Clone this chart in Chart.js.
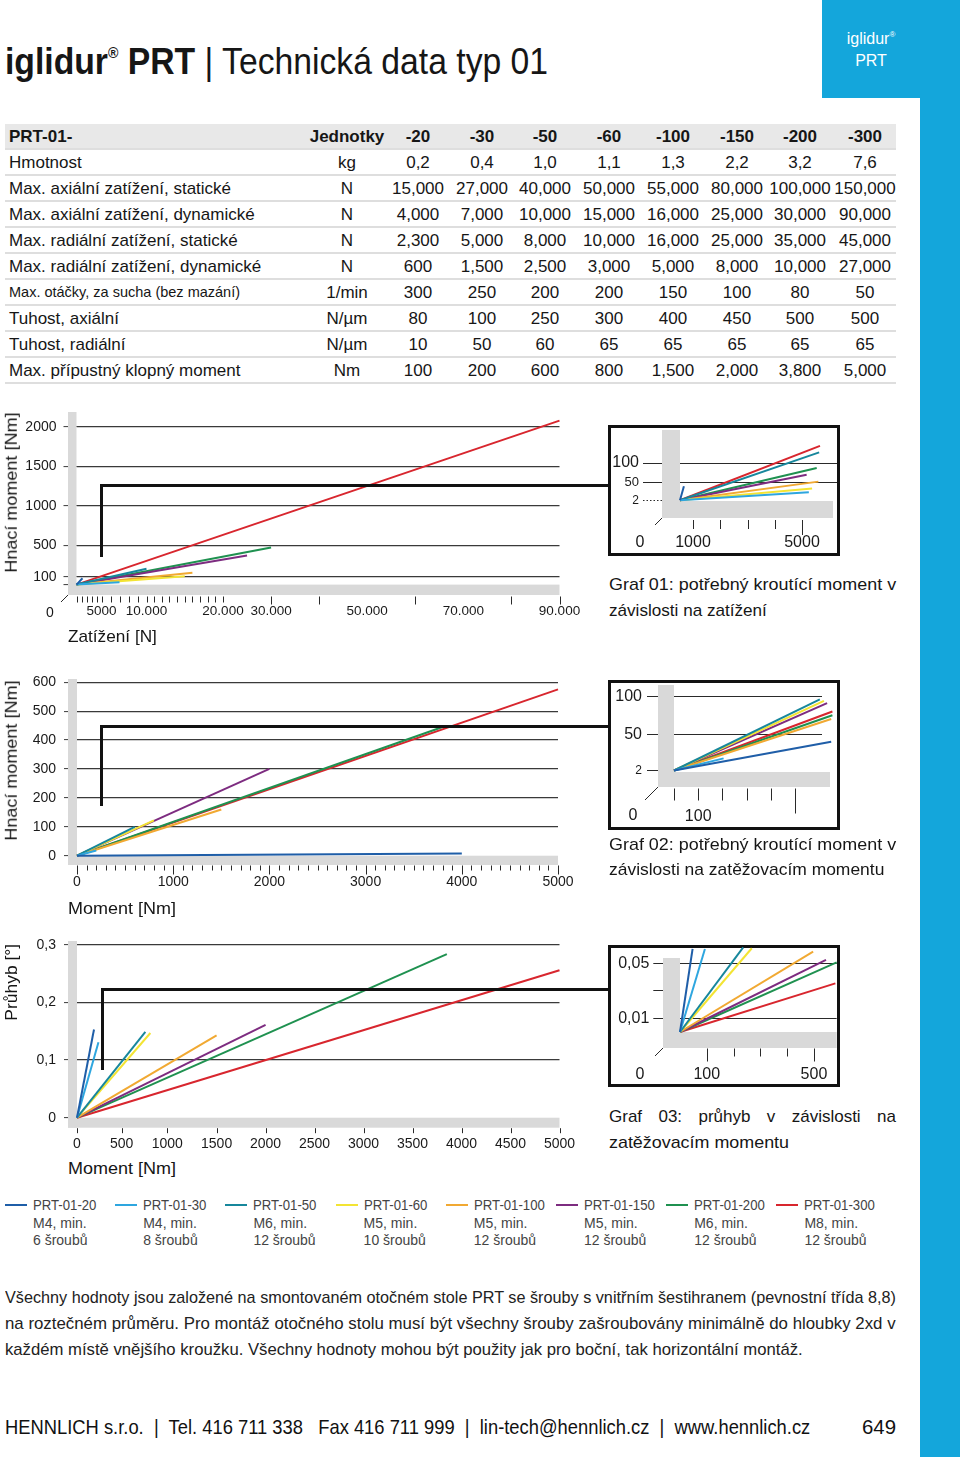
<!DOCTYPE html>
<html lang="cs"><head><meta charset="utf-8"><title>iglidur PRT – Technická data typ 01</title>
<script src="https://cdn.jsdelivr.net/npm/chart.js@4.4.1/dist/chart.umd.min.js"></script>
<style>
html,body{margin:0;padding:0;background:#fff}
body{position:relative;width:960px;height:1457px;overflow:hidden;font-family:"Liberation Sans",Arial,Helvetica,sans-serif;color:#161616}
.t{position:absolute;white-space:nowrap}
.t>span{display:inline-block;white-space:nowrap;transform-origin:0 50%}
.box{position:absolute;border:3px solid #111;box-sizing:border-box}
.bk{position:absolute;background:#111}
canvas{position:absolute}
</style></head><body>
<div style="position:absolute;left:822px;top:0;width:138px;height:98px;background:#14a6db"></div>
<div style="position:absolute;left:920px;top:98px;width:40px;height:1359px;background:#14a6db"></div>
<script>
// ---------------- DATA ----------------
const SERIES = ['PRT-01-20','PRT-01-30','PRT-01-50','PRT-01-60','PRT-01-100','PRT-01-150','PRT-01-200','PRT-01-300'];
const SCREW_SIZE = ['M4, min.','M4, min.','M6, min.','M5, min.','M5, min.','M5, min.','M6, min.','M8, min.'];
const SCREW_COUNT = ['6 šroubů','8 šroubů','12 šroubů','10 šroubů','12 šroubů','12 šroubů','12 šroubů','12 šroubů'];
const COLORS = ['#1f5ea8','#2ea6df','#17879c','#f3e433','#f1a932','#7d2c80','#1f9150','#d8262e'];

// Graf 01 – Hnací moment [Nm] vs Zatížení [N]
const G1_START = [0, 0];
const G1_LOAD = [1200, 7000, 10000, 15000, 16000, 25000, 30000, 90000];
const G1_TORQUE = [80, 30, 200, 105, 150, 370, 470, 2080];
const G1_X_TICKS = [5000, 10000, 20000, 30000, 50000, 70000, 90000];
const G1_X_LABELS = ['5000', '10.000', '20.000', '30.000', '50.000', '70.000', '90.000'];
const G1_Y_TICKS = [2000, 1500, 1000, 500, 100, 0];
const G1_Y_LABELS = ['2000', '1500', '1000', '500', '100', ''];
const G1_Y_GRID = [2000, 1500, 1000, 500, 100];
const G1_X_MINOR = [0,1000,2000,3000,4000,5000,6000,7000,8000,9000,10000,11000,12000,13000,14000,15000,16000,17000,18000,19000,20000];
const G1_X_MAJOR = [30000, 40000, 60000, 80000, 90000];
// Graf 01 detail
const G1Z_START = [0, 2];
const G1Z_LOAD = [300, 5250, 5630, 5370, 5600, 5170, 5540, 5660];
const G1Z_TORQUE = [39, 23, 128, 33, 51, 69, 87, 145];
const G1Z_X_TICKS = [1000, 5000];
const G1Z_X_LABELS = ['1000', '5000'];
const G1Z_Y_TICKS = [100, 50, 2];
const G1Z_Y_LABELS = ['100', '50', '2'];
const G1Z_X_MINOR = [1000, 2000, 3000, 4000];
const G1Z_X_MAJOR = [5000];

// Graf 02 – Hnací moment [Nm] vs Moment [Nm]
const G2_START = [0, 0];
const G2_MOMENT = [4000, 200, 600, 800, 1500, 2000, 3800, 5000];
const G2_TORQUE = [8, 18, 100, 122, 160, 300, 445, 575];
const G2_X_TICKS = [0, 1000, 2000, 3000, 4000, 5000];
const G2_X_LABELS = ['0', '1000', '2000', '3000', '4000', '5000'];
const G2_Y_TICKS = [600, 550, 500, 450, 400, 350, 300, 250, 200, 150, 100, 50, 0];
const G2_Y_LABELS = ['600', '', '500', '', '400', '', '300', '', '200', '', '100', '', '0'];
const G2_Y_GRID = [600, 500, 400, 300, 200, 100, 50];
const G2_X_MINOR = [100,200,300,400,500,600,700,800,900,1100,1200,1300,1400,1500,1600,1700,1800,1900,2100,2200,2300,2400,2500,2600,2700,2800,2900,3100,3200,3300,3400,3500,3600,3700,3800,3900,4100,4200,4300,4400,4500,4600,4700,4800,4900];
const G2_X_MAJOR = [0, 1000, 2000, 3000, 4000, 5000];
// Graf 02 detail
const G2Z_START = [0, 2];
const G2Z_MOMENT = [650, 205, 603, 620, 650, 633, 655, 655];
const G2Z_TORQUE = [40, 18, 96, 94, 70, 91, 75, 80];
const G2Z_X_TICKS = [100];
const G2Z_X_LABELS = ['100'];
const G2Z_Y_TICKS = [100, 50, 2];
const G2Z_Y_LABELS = ['100', '50', '2'];
const G2Z_X_MINOR = [0, 100, 200, 300, 400];
const G2Z_X_MAJOR = [500];

// Graf 03 – Průhyb [°] vs Moment [Nm]
const G3_START = [0, 0];
const G3_MOMENT = [190, 240, 760, 815, 1500, 2000, 3850, 5000];
const G3_DEFLECTION = [0.153, 0.131, 0.149, 0.147, 0.143, 0.161, 0.284, 0.256];
const G3_X_TICKS = [0, 500, 1000, 1500, 2000, 2500, 3000, 3500, 4000, 4500, 5000];
const G3_X_LABELS = ['0', '500', '1000', '1500', '2000', '2500', '3000', '3500', '4000', '4500', '5000'];
const G3_Y_TICKS = [0.3, 0.2, 0.1, 0];
const G3_Y_LABELS = ['0,3', '0,2', '0,1', '0'];
const G3_Y_GRID = [0.3, 0.2, 0.1];
// Graf 03 detail
const G3Z_START = [0, 0];
const G3Z_MOMENT = [47, 93, 236, 268, 497, 545, 585, 580];
const G3Z_DEFLECTION = [0.0604, 0.0604, 0.0616, 0.0609, 0.0584, 0.0524, 0.0507, 0.0354];
const G3Z_X_TICKS = [100, 500];
const G3Z_X_LABELS = ['100', '500'];
const G3Z_Y_TICKS = [0.05, 0.04, 0.03, 0.02, 0.01];
const G3Z_Y_LABELS = ['0,05', '', '', '', '0,01'];
const G3Z_Y_GRID = [0.05, 0.01];
const G3Z_X_MINOR = [200, 300, 400];
const G3Z_X_MAJOR = [100, 500];

// Table
const TABLE_HEAD = ['PRT-01-', 'Jednotky', '-20', '-30', '-50', '-60', '-100', '-150', '-200', '-300'];
const TABLE_ROWS = [
  ['Hmotnost', 'kg', '0,2', '0,4', '1,0', '1,1', '1,3', '2,2', '3,2', '7,6'],
  ['Max. axiální zatížení, statické', 'N', '15,000', '27,000', '40,000', '50,000', '55,000', '80,000', '100,000', '150,000'],
  ['Max. axiální zatížení, dynamické', 'N', '4,000', '7,000', '10,000', '15,000', '16,000', '25,000', '30,000', '90,000'],
  ['Max. radiální zatížení, statické', 'N', '2,300', '5,000', '8,000', '10,000', '16,000', '25,000', '35,000', '45,000'],
  ['Max. radiální zatížení, dynamické', 'N', '600', '1,500', '2,500', '3,000', '5,000', '8,000', '10,000', '27,000'],
  ['Max. otáčky, za sucha (bez mazání)', '1/min', '300', '250', '200', '200', '150', '100', '80', '50'],
  ['Tuhost, axiální', 'N/µm', '80', '100', '250', '300', '400', '450', '500', '500'],
  ['Tuhost, radiální', 'N/µm', '10', '50', '60', '65', '65', '65', '65', '65'],
  ['Max. přípustný klopný moment', 'Nm', '100', '200', '600', '800', '1,500', '2,000', '3,800', '5,000']
];

// ---------------- HELPERS ----------------
const FONT = '"Liberation Sans", Arial, Helvetica, sans-serif';
Chart.defaults.font.family = FONT;
Chart.defaults.color = '#1a1a1a';

function addText(html, x, yc, size, opt) {
  opt = opt || {};
  const d = document.createElement('div');
  d.className = 't';
  const lh = size * 1.2;
  d.style.top = (yc - lh / 2) + 'px';
  d.style.fontSize = size + 'px';
  d.style.lineHeight = lh + 'px';
  if (opt.weight) d.style.fontWeight = opt.weight;
  if (opt.color) d.style.color = opt.color;
  const s = document.createElement('span');
  s.innerHTML = html;
  d.appendChild(s);
  if (opt.align === 'center') {
    d.style.left = (x - 300) + 'px'; d.style.width = '600px'; d.style.textAlign = 'center';
    s.style.transformOrigin = '50% 50%';
  } else {
    d.style.left = x + 'px';
  }
  document.body.appendChild(d);
  if (opt.w) { const nat = s.offsetWidth; if (nat > 0) s.style.transform = 'scaleX(' + (opt.w / nat) + ')'; }
  return d;
}
function addRotated(text, cx, cy, size, len) {
  const d = document.createElement('div');
  d.className = 't';
  const lh = size * 1.2;
  d.style.cssText += 'left:' + (cx - len / 2) + 'px;top:' + (cy - lh / 2) + 'px;width:' + len + 'px;text-align:center;font-size:' + size + 'px;line-height:' + lh + 'px;transform:rotate(-90deg);transform-origin:50% 50%';
  const s = document.createElement('span');
  s.textContent = text; s.style.transformOrigin = '50% 50%';
  d.appendChild(s);
  document.body.appendChild(d);
  const nat = s.offsetWidth; if (nat > 0) s.style.transform = 'scaleX(' + (len / nat) + ')';
}
function addJustified(text, x, yc, size, w) {
  const d = document.createElement('div');
  d.className = 't';
  const lh = size * 1.2;
  d.style.cssText += 'left:' + x + 'px;top:' + (yc - lh / 2) + 'px;width:' + w + 'px;font-size:' + size + 'px;line-height:' + lh + 'px;display:flex;justify-content:space-between';
  text.split(' ').forEach(wd => { const s = document.createElement('i'); s.style.fontStyle = 'normal'; s.textContent = wd; d.appendChild(s); });
  document.body.appendChild(d);
}
function rect(l, t, w, h, cls, bg) {
  const d = document.createElement('div');
  d.className = cls;
  d.style.left = l + 'px'; d.style.top = t + 'px'; d.style.width = w + 'px'; d.style.height = h + 'px';
  if (bg) d.style.background = bg;
  document.body.appendChild(d);
  return d;
}

// Piecewise linear axis (the printed axes are stretched near the origin)
const PW = {};
class PiecewiseScale extends Chart.LinearScale {
  _bp() { return PW[this.chart.canvas.id + '_' + this.id]; }
  getPixelForValue(value) {
    if (value === null || value === undefined || isNaN(value)) return NaN;
    const b = this._bp();
    if (!b) return super.getPixelForValue(value);
    const v = b.values, p = b.pixels, n = v.length;
    let i = 0;
    while (i < n - 2 && value > v[i + 1]) i++;
    const t = (value - v[i]) / (v[i + 1] - v[i]);
    return this.getPixelForDecimal((p[i] + t * (p[i + 1] - p[i])) / p[n - 1]);
  }
  getValueForPixel(pixel) {
    const b = this._bp();
    if (!b) return super.getValueForPixel(pixel);
    const v = b.values, p = b.pixels, n = v.length;
    const off = this.getDecimalForPixel(pixel) * p[n - 1];
    let i = 0;
    while (i < n - 2 && off > p[i + 1]) i++;
    return v[i] + (off - p[i]) / (p[i + 1] - p[i]) * (v[i + 1] - v[i]);
  }
}
PiecewiseScale.id = 'piecewise';
PiecewiseScale.defaults = Chart.LinearScale.defaults;
Chart.register(PiecewiseScale);

function decorPlugin(o) {
  return {
    id: 'decor',
    beforeDatasetsDraw(chart) {
      const a = chart.chartArea, ctx = chart.ctx, xs = chart.scales.x;
      ctx.save();
      ctx.fillStyle = '#d9d9d9';
      const bx = a.left - o.vw, byTop = a.top + o.vTop, byBot = a.bottom + o.hh;
      ctx.fillRect(bx, byTop, o.vw, byBot - byTop);
      ctx.fillRect(bx, a.bottom, a.right + o.hRight - bx, o.hh);
      ctx.strokeStyle = '#2a2a2a'; ctx.lineWidth = 1;
      const y0 = byBot + o.gap;
      const tk = (v, len) => { const x = Math.round(xs.getPixelForValue(v)) + 0.5; ctx.beginPath(); ctx.moveTo(x, y0); ctx.lineTo(x, y0 + len); ctx.stroke(); };
      (o.minor || []).forEach(v => tk(v, o.minorLen));
      (o.major || []).forEach(v => tk(v, o.majorLen));
      if (o.diag) { ctx.beginPath(); ctx.moveTo(bx, byBot); ctx.lineTo(bx - o.diag, byBot + o.diag); ctx.stroke(); }
      ctx.restore();
    }
  };
}

function lineSets(xEnd, yEnd, start) {
  return SERIES.map((name, i) => ({
    label: name,
    data: [{ x: start[0], y: start[1] }, { x: xEnd[i], y: yEnd[i] }],
    borderColor: COLORS[i], backgroundColor: COLORS[i],
    borderWidth: 2, pointRadius: 0, pointHoverRadius: 0, showLine: true, clip: false, tension: 0, fill: false
  }));
}

function buildChart(id, r, area, X, Y, sets, decor) {
  const cv = document.createElement('canvas');
  cv.id = id; cv.width = r.w; cv.height = r.h;
  cv.style.left = r.l + 'px'; cv.style.top = r.t + 'px';
  cv.style.width = r.w + 'px'; cv.style.height = r.h + 'px';
  document.body.appendChild(cv);
  if (X.breaks) PW[id + '_x'] = X.breaks;
  const yW = area.l - r.l;
  const xH = r.t + r.h - area.b;
  const zero = s => { s.paddingLeft = 0; s.paddingRight = 0; s.paddingTop = 0; s.paddingBottom = 0; };
  const lab = (vals, labels) => v => { const k = vals.indexOf(v); return k < 0 ? '' : labels[k]; };
  const gc = Y.gridColor || '#3a3a3a';
  return new Chart(cv, {
    type: 'scatter',
    data: { datasets: sets },
    options: {
      responsive: false, maintainAspectRatio: false, animation: false, events: [], devicePixelRatio: 1,
      layout: { autoPadding: false, padding: { left: 0, top: area.t - r.t, right: r.l + r.w - area.r, bottom: 0 } },
      plugins: { legend: { display: false }, tooltip: { enabled: false } },
      scales: {
        x: {
          type: X.breaks ? 'piecewise' : 'linear', position: 'bottom', min: X.min, max: X.max, bounds: 'data',
          border: { display: false }, grid: { display: false, drawTicks: false, drawOnChartArea: false },
          afterBuildTicks: s => { s.ticks = X.ticks.map(v => ({ value: v })); },
          afterFit: s => { s.height = xH; zero(s); },
          ticks: { autoSkip: false, maxRotation: 0, minRotation: 0, padding: X.pad, color: '#1a1a1a',
                   font: { size: X.size, family: FONT }, callback: lab(X.ticks, X.labels) }
        },
        y: {
          type: 'linear', position: 'left', min: Y.min, max: Y.max, bounds: 'data',
          border: { display: false },
          grid: { drawOnChartArea: true, drawTicks: true, tickLength: Y.tl, lineWidth: Y.lw || 1.2, tickWidth: 1,
                  color: c => (c.tick && Y.grid.indexOf(c.tick.value) >= 0) ? gc : 'rgba(0,0,0,0)',
                  tickColor: gc,
                  tickBorderDash: c => (c.tick && Y.dotted && Y.dotted.indexOf(c.tick.value) >= 0) ? [1.5, 2] : [] },
          afterBuildTicks: s => { s.ticks = Y.ticks.map(v => ({ value: v })); },
          afterFit: s => { s.width = yW; zero(s); },
          ticks: { padding: Y.pad, color: '#1a1a1a',
                   font: c => ({ size: (Y.sizes && c.tick) ? Y.sizes[Y.ticks.indexOf(c.tick.value)] : Y.size, family: FONT }),
                   callback: lab(Y.ticks, Y.labels) }
        }
      }
    },
    plugins: [decorPlugin(decor)]
  });
}

// ---------------- HEADER ----------------
addText('<b>iglidur<sup style="font-size:.42em;vertical-align:1.05em;line-height:0">®</sup> PRT</b> <span style="font-weight:300">|</span> Technická data typ 01', 5, 62, 36, { w: 543 });
addText('iglidur<sup style="font-size:.5em;vertical-align:.9em;line-height:0">®</sup>', 871, 39, 16, { align: 'center', color: '#fff' });
addText('PRT', 871, 61, 16, { align: 'center', color: '#fff' });

// ---------------- TABLE ----------------
const COL_X = [347, 418, 482, 545, 609, 673, 737, 800, 865];
function tableRow(cells, i, header) {
  const top = 124 + 26 * i;
  const r = rect(5, top, 891, 24, 't', header ? '#e8e8e8' : null);
  r.style.borderBottom = '2px solid #dedede';
  const yc = top + 13;
  const small = cells[0].indexOf('otáčky') >= 0;
  addText(cells[0], 9, yc, small ? 14.5 : 17, { weight: header ? 'bold' : null });
  for (let k = 1; k < cells.length; k++) addText(cells[k], COL_X[k - 1], yc, 17, { align: 'center', weight: header ? 'bold' : null });
}
tableRow(TABLE_HEAD, 0, true);
TABLE_ROWS.forEach((row, i) => tableRow(row, i + 1, false));

// ---------------- CHARTS ----------------
// Graf 01
buildChart('g1', { l: 0, t: 400, w: 600, h: 230 }, { l: 76.5, t: 412, r: 559.5, b: 584.6 },
  { breaks: { values: [0, 5000, 10000, 20000, 90000], pixels: [0, 25, 70, 146.5, 483] }, min: 0, max: 90000,
    ticks: G1_X_TICKS, labels: G1_X_LABELS, pad: 19, size: 13.5 },
  { min: 0, max: 2190, ticks: G1_Y_TICKS, labels: G1_Y_LABELS, grid: G1_Y_GRID, tl: 13, pad: 7, size: 14 },
  lineSets(G1_LOAD, G1_TORQUE, G1_START),
  { vw: 8.5, vTop: 0, hh: 10.4, hRight: 0, gap: 1.5, minor: G1_X_MINOR, major: G1_X_MAJOR, minorLen: 6, majorLen: 8, diag: 7 });
addText('0', 50, 612, 14, { align: 'center' });
addRotated('Hnací moment [Nm]', 12, 492, 17, 160);
addText('Zatížení [N]', 68, 637, 17, { w: 89 });
rect(100, 484, 510, 3, 'bk');
rect(100, 484, 3, 73, 'bk');
rect(608, 425, 232, 131, 'box');
buildChart('g1z', { l: 611, t: 428, w: 226, h: 125 }, { l: 680, t: 432, r: 837, b: 501 },
  { breaks: { values: [0, 1000, 5000, 6284], pixels: [0, 13, 122, 157] }, min: 0, max: 6284,
    ticks: G1Z_X_TICKS, labels: G1Z_X_LABELS, pad: 32, size: 16 },
  { min: 0, max: 181.6, ticks: G1Z_Y_TICKS, labels: G1Z_Y_LABELS, sizes: [16, 13, 12], grid: [100, 50], dotted: [2], tl: 37, pad: 4, size: 16, gridColor: '#2a2a2a', lw: 1 },
  lineSets(G1Z_LOAD, G1Z_TORQUE, G1Z_START),
  { vw: 18, vTop: -2, hh: 17, hRight: -4, gap: 2, minor: G1Z_X_MINOR, major: G1Z_X_MAJOR, minorLen: 9, majorLen: 15, diag: 7 });
addText('0', 640, 542, 16, { align: 'center' });
addText('Graf 01: potřebný kroutící moment v', 609, 585, 17, { w: 287 });
addText('závislosti na zatížení', 609, 611, 17, { w: 158 });

// Graf 02
buildChart('g2', { l: 0, t: 665, w: 600, h: 235 }, { l: 77, t: 679, r: 558, b: 855.7 },
  { min: 0, max: 5000, ticks: G2_X_TICKS, labels: G2_X_LABELS, pad: 18, size: 14 },
  { min: 0, max: 611, ticks: G2_Y_TICKS, labels: G2_Y_LABELS, grid: G2_Y_GRID, tl: 13, pad: 8, size: 14 },
  lineSets(G2_MOMENT, G2_TORQUE, G2_START),
  { vw: 9, vTop: 0, hh: 9.3, hRight: 0, gap: 0.5, minor: G2_X_MINOR, major: G2_X_MAJOR, minorLen: 5, majorLen: 9, diag: 0 });
addRotated('Hnací moment [Nm]', 12, 760, 17, 160);
addText('Moment [Nm]', 68, 909, 17, { w: 108 });
rect(100, 725, 510, 3, 'bk');
rect(100, 725, 3, 81, 'bk');
rect(608, 680, 232, 150, 'box');
buildChart('g2z', { l: 611, t: 683, w: 226, h: 144 }, { l: 674, t: 685, r: 822, b: 772 },
  { min: 0, max: 612, ticks: G2Z_X_TICKS, labels: G2Z_X_LABELS, pad: 35, size: 16 },
  { min: 0, max: 115, ticks: G2Z_Y_TICKS, labels: G2Z_Y_LABELS, sizes: [16, 16, 12], grid: [100, 50], dotted: [], tl: 27, pad: 5, size: 16, gridColor: '#2a2a2a', lw: 1 },
  lineSets(G2Z_MOMENT, G2Z_TORQUE, G2Z_START),
  { vw: 16, vTop: 0, hh: 15, hRight: 8, gap: 1.5, minor: G2Z_X_MINOR, major: G2Z_X_MAJOR, minorLen: 12, majorLen: 25, diag: 13 });
addText('0', 633, 815, 16, { align: 'center' });
addText('Graf 02: potřebný kroutící moment v', 609, 845, 17, { w: 287 });
addText('závislosti na zatěžovacím momentu', 609, 870, 17, { w: 275 });

// Graf 03
buildChart('g3', { l: 0, t: 930, w: 600, h: 225 }, { l: 77, t: 941, r: 559.5, b: 1117.7 },
  { breaks: { values: [0, 500, 1000, 1500, 5000], pixels: [0, 44.7, 90.2, 139.6, 482.5] }, min: 0, max: 5000,
    ticks: G3_X_TICKS, labels: G3_X_LABELS, pad: 18, size: 14 },
  { min: 0, max: 0.3067, ticks: G3_Y_TICKS, labels: G3_Y_LABELS, grid: G3_Y_GRID, tl: 13, pad: 8, size: 14 },
  lineSets(G3_MOMENT, G3_DEFLECTION, G3_START),
  { vw: 9, vTop: 0, hh: 10, hRight: 0, gap: 0.5, minor: [], major: G3_X_TICKS, minorLen: 5, majorLen: 5, diag: 0 });
addRotated('Průhyb [°]', 12, 982, 17, 77);
addText('Moment [Nm]', 68, 1169, 17, { w: 108 });
rect(101, 988, 510, 3, 'bk');
rect(101, 988, 3, 82, 'bk');
rect(608, 945, 232, 142, 'box');
buildChart('g3z', { l: 611, t: 946, w: 226, h: 138 }, { l: 680, t: 948, r: 836.7, b: 1032 },
  { min: 0, max: 585, ticks: G3Z_X_TICKS, labels: G3Z_X_LABELS, pad: 33, size: 16 },
  { min: 0, max: 0.0611, ticks: G3Z_Y_TICKS, labels: G3Z_Y_LABELS, grid: G3Z_Y_GRID, tl: 26.7, pad: 4, size: 16, gridColor: '#2a2a2a', lw: 1 },
  lineSets(G3Z_MOMENT, G3Z_DEFLECTION, G3Z_START),
  { vw: 17, vTop: 10, hh: 16, hRight: 0, gap: 0.5, minor: G3Z_X_MINOR, major: G3Z_X_MAJOR, minorLen: 8, majorLen: 13, diag: 8 });
addText('0', 640, 1074, 16, { align: 'center' });
addJustified('Graf 03: průhyb v závislosti na', 609, 1117, 17, 287);
addText('zatěžovacím momentu', 609, 1143, 17, { w: 180 });

// ---------------- LEGEND ----------------
SERIES.forEach((name, i) => {
  const x0 = 5 + 110.2 * i;
  rect(x0, 1204, 22, 2, 't', COLORS[i]);
  addText(name, x0 + 28, 1205, 14, { color: '#444', w: 63 + (name.length - 9) * 7.6 });
  addText(SCREW_SIZE[i], x0 + 28, 1223, 14, { color: '#444' });
  addText(SCREW_COUNT[i], x0 + 28, 1240, 14, { color: '#444' });
});

// ---------------- TEXT ----------------
addText('Všechny hodnoty jsou založené na smontovaném otočném stole PRT se šrouby s vnitřním šestihranem (pevnostní třída 8,8)', 5, 1298, 17, { w: 891, color: '#222' });
addText('na roztečném průměru. Pro montáž otočného stolu musí být všechny šrouby zašroubovány minimálně do hloubky 2xd v', 5, 1324, 17, { w: 891, color: '#222' });
addText('každém místě vnějšího kroužku. Všechny hodnoty mohou být použity jak pro boční, tak horizontální montáž.', 5, 1350, 17, { w: 798, color: '#222' });
addText('HENNLICH s.r.o. &nbsp;|&nbsp; Tel. 416 711 338 &nbsp; Fax 416 711 999 &nbsp;|&nbsp; lin-tech@hennlich.cz &nbsp;|&nbsp; www.hennlich.cz', 5, 1427, 21, { w: 805, color: '#111' });
addText('649', 862, 1427, 21, { w: 34, color: '#111' });
</script>
</body></html>
